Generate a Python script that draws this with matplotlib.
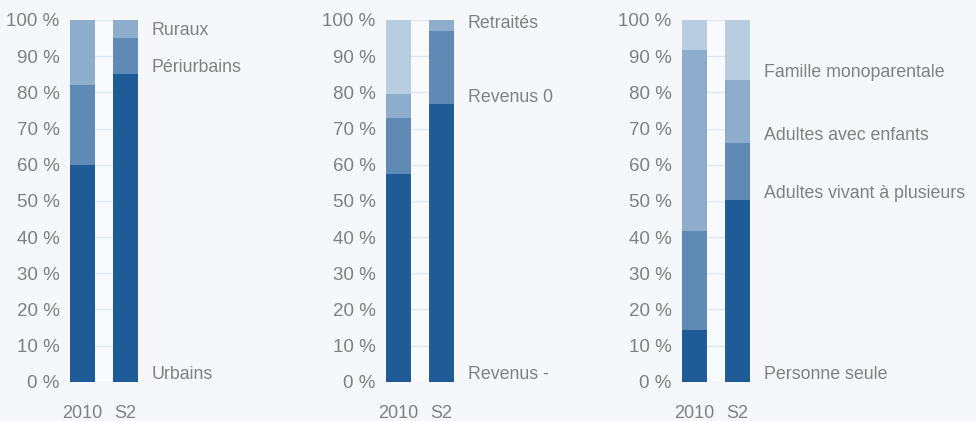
"""Stacked 100 % bars: 2010 vs S2, three breakdowns side by side."""

import matplotlib
matplotlib.use("Agg")
import matplotlib.pyplot as plt
import matplotlib.transforms as mtransforms
import numpy as np

# ---------------------------------------------------------------------------
# Data (shares in %, bottom segment first)
# ---------------------------------------------------------------------------
periods = ["2010", "S2"]

zone_2010 = [60, 22, 18]
zone_s2 = [85, 10, 5]
zone_labels = ["Urbains", "Périurbains", "Ruraux"]

revenu_2010 = [57.4, 15.5, 6.6, 20.5]
revenu_s2 = [76.7, 20.3, 3.0, 0.0]
revenu_labels = ["Revenus -", "Revenus 0", "Retraités"]

menage_2010 = [14.3, 27.3, 50.1, 8.3]
menage_s2 = [50.2, 15.8, 17.4, 16.6]
menage_labels = ["Personne seule", "Adultes vivant à plusieurs",
                 "Adultes avec enfants", "Famille monoparentale"]

yticks = list(range(0, 101, 10))

# ---------------------------------------------------------------------------
# Style
# ---------------------------------------------------------------------------
BG = "#f5f7fb"
AX_BG = "#f8fafd"
GRID = "#dfe7f0"
TEXT = "#808080"
COLORS = ["#1f5b96", "#5f8ab6", "#8eadcc", "#b9cde0"]

plt.rcParams["font.family"] = ["Liberation Sans", "DejaVu Sans"]

W, H = 976, 421
fig = plt.figure(figsize=(W / 100, H / 100), dpi=100, facecolor=BG)

panels = [
    (70, zone_2010, zone_s2, zone_labels),
    (386, revenu_2010, revenu_s2, revenu_labels),
    (682, menage_2010, menage_s2, menage_labels),
]

bar_w = 25 / 43
x = np.arange(len(periods))

for left_px, v2010, vs2, labels in panels:
    ax = fig.add_axes([left_px / W, (H - 381.7) / H, 68 / W, 361.7 / H])
    ax.set_facecolor(AX_BG)

    # grid behind bars
    for t in yticks:
        ax.axhline(t, color=GRID, lw=1, zorder=0)

    bottoms = np.zeros(len(periods))
    for i in range(len(v2010)):
        vals = np.array([v2010[i], vs2[i]])
        ax.bar(x, vals, bottom=bottoms, width=bar_w, color=COLORS[i],
               linewidth=0, zorder=2)
        bottoms += vals

    ax.set_xlim(-bar_w / 2, 1 + bar_w / 2)
    ax.set_ylim(0, 100)
    ax.set_yticks(yticks)
    ax.set_yticklabels([f"{t} %" for t in yticks])
    ax.set_xticks(x)
    ax.set_xticklabels(periods)
    ax.tick_params(axis="y", length=0, pad=7.5, colors=TEXT, labelsize=13.5)
    ax.tick_params(axis="x", length=0, pad=16.5, colors=TEXT, labelsize=13)
    for s in ax.spines.values():
        s.set_visible(False)

    # category labels at the start of each S2 segment
    starts = np.concatenate([[0], np.cumsum(vs2)[:-1]])
    trans = mtransforms.blended_transform_factory(ax.transAxes, ax.transData)
    for lab, y0 in zip(labels, starts):
        ax.annotate(lab, xy=(1, y0), xycoords=trans,
                    xytext=(10, -1), textcoords="offset points",
                    ha="left", va="bottom", color=TEXT, fontsize=12.8,
                    annotation_clip=False)

fig.savefig("out.png", dpi=100, facecolor=BG)
